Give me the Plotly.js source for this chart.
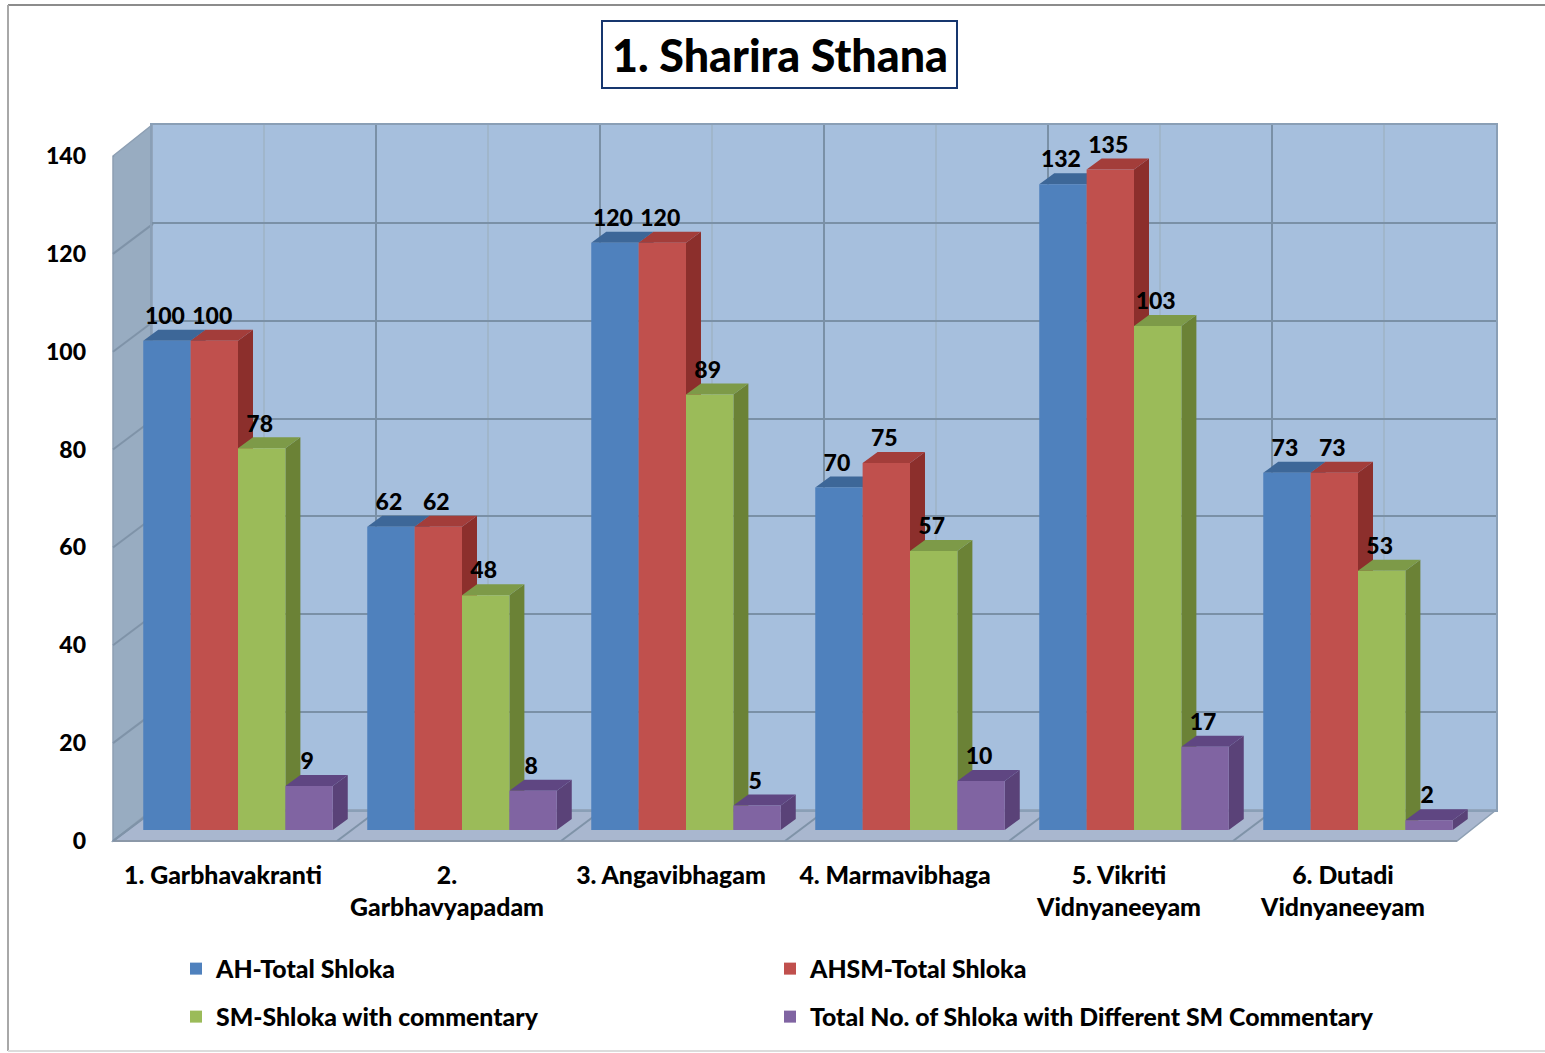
<!DOCTYPE html>
<html><head><meta charset="utf-8">
<script src="https://cdn.plot.ly/plotly-3.0.1.min.js"></script>
<style>html,body{margin:0;padding:0;background:#fff}</style>
</head><body><div id="chart" style="width:1545px;height:1053px"></div>
<script>
const categories = ["1. Garbhavakranti","2.<br>Garbhavyapadam","3. Angavibhagam","4. Marmavibhaga","5. Vikriti<br>Vidnyaneeyam","6. Dutadi<br>Vidnyaneeyam"];
const seriesNames = ["AH-Total Shloka","AHSM-Total Shloka","SM-Shloka with commentary","Total No. of Shloka with Different SM Commentary"];
const ahTotal = [100,62,120,70,132,73];
const ahsmTotal = [100,62,120,75,135,73];
const smCommentary = [78,48,89,57,103,53];
const differentSm = [9,8,5,10,17,2];
const frontColors = ["#4f81bd","#c0504d","#9bbb59","#8064a2"];
const sideColors = ["#385d8a","#8c2f2c","#6b8236","#5a4278"];
const topColors = ["#3d6798","#a33d3a","#7d9a48","#5f4682"];
const yTicks = [0,20,40,60,80,100,120,140];

const W=1545,H=1053;
const xDom=(a,b)=>[a/W,b/W], yDom=(top,bot)=>[(H-bot)/H,(H-top)/H];
const PX_Y=685/140, PX_X=224;
const values=[ahTotal,ahsmTotal,smCommentary,differentSm];
const idx=categories.map((_,i)=>i);
const barSpan=0.846, barW=barSpan/4;
const depthX=15/PX_X, depthY=11/PX_Y;
const wallX=40/PX_X, wallY=30/PX_Y, frontShift=2/PX_X;
const numFont={family:"Lato, sans-serif",size:23,color:"#000",weight:900};
const textFont={family:"Lato, sans-serif",size:24.8,color:"#000",weight:900};
const Y_MAX=160, BAR_BASE=830;

const traces=[];
const gx=[],gy=[];
yTicks.forEach(v=>{gx.push(-0.5+frontShift,-0.5+frontShift+wallX,null);gy.push(v,v+wallY,null);});
idx.forEach(i=>{gx.push(i-0.5+frontShift,i-0.5+frontShift+wallX,null);gy.push(0,wallY,null);});
traces.push({type:"scatter",mode:"lines",x:gx,y:gy,xaxis:"x",yaxis:"y",cliponaxis:false,
  line:{color:"#7f93a8",width:2},hoverinfo:"skip",showlegend:false});
traces.push({type:"scatter",mode:"none",x:[0],y:[0],xaxis:"x2",yaxis:"y2",hoverinfo:"skip",showlegend:false});
values.forEach((vals,s)=>{
  const sx=[],sy=[],tx=[],ty=[];
  vals.forEach((v,i)=>{
    const l=i-barSpan/2+s*barW, r=l+barW;
    sx.push(r,r+depthX,r+depthX,r,r,null); sy.push(0,depthY,v+depthY,v,0,null);
    tx.push(l,r,r+depthX,l+depthX,l,null); ty.push(v,v,v+depthY,v+depthY,v,null);
  });
  traces.push({type:"scatter",mode:"lines",x:sx,y:sy,fill:"toself",fillcolor:sideColors[s],line:{width:0,color:sideColors[s]},
    xaxis:"x3",yaxis:"y3",cliponaxis:false,hoverinfo:"skip",showlegend:false});
  traces.push({type:"scatter",mode:"lines",x:tx,y:ty,fill:"toself",fillcolor:topColors[s],line:{width:0,color:topColors[s]},
    xaxis:"x3",yaxis:"y3",cliponaxis:false,hoverinfo:"skip",showlegend:false});
});
const legendIds=["legend","legend2","legend3","legend4"];
values.forEach((vals,s)=>{
  traces.push({type:"bar",name:seriesNames[s],x:idx,y:vals,marker:{color:frontColors[s],line:{width:0}},
    xaxis:"x4",yaxis:"y4",legend:legendIds[s]});
});
values.forEach((vals,s)=>{
  traces.push({type:"scatter",mode:"text",x:idx.map(i=>i-barSpan/2+(s+0.5)*barW-2/PX_X),y:vals.map(v=>v+22.5/PX_Y),
    text:vals.map(String),textposition:"middle center",textfont:numFont,cliponaxis:false,
    xaxis:"x4",yaxis:"y4",hoverinfo:"skip",showlegend:false});
});

const hidden={showticklabels:false,ticks:"",showgrid:false,zeroline:false,showline:false,fixedrange:true};
const legendAt=(x,y)=>({x:x/W,y:(H-y)/H,xanchor:"left",yanchor:"middle",font:textFont,bgcolor:"rgba(0,0,0,0)",itemclick:false,itemdoubleclick:false});
const poly=pts=>"M"+pts.map(p=>(p[0]/W)+","+((H-p[1])/H)).join("L")+"Z";
const layout={
  width:W,height:H,margin:{l:0,r:0,t:0,b:0},paper_bgcolor:"#fff",plot_bgcolor:"rgba(0,0,0,0)",
  title:{text:"1. Sharira Sthana",x:780/W,xanchor:"center",y:(H-56)/H,yanchor:"middle",font:{family:"Lato, sans-serif",size:44.8,color:"#000",weight:900}},
  barmode:"group",bargap:1-barSpan,bargroupgap:0,showlegend:true,
  xaxis:{domain:xDom(111,1455),range:[-0.5,5.5],tickmode:"array",tickvals:idx,ticktext:categories,tickfont:textFont,
    ticks:"",showgrid:false,zeroline:false,showline:false,ticklabelstandoff:17,fixedrange:true,anchor:"y"},
  yaxis:{domain:yDom(156,841),range:[0,140],tickmode:"array",tickvals:yTicks,tickfont:numFont,ticks:"",
    showgrid:false,zeroline:false,showline:false,ticklabelstandoff:24,fixedrange:true,anchor:"x"},
  xaxis2:{domain:xDom(152,1496),range:[0,6],dtick:1,tick0:0,showticklabels:false,ticks:"",showgrid:true,gridcolor:"#7a90a6",gridwidth:2,
    minor:{dtick:0.5,tick0:0,showgrid:true,gridcolor:"#a0b6cb",gridwidth:2},
    zeroline:false,showline:true,mirror:true,linecolor:"#8a9fb6",linewidth:2,fixedrange:true,anchor:"y2"},
  yaxis2:{domain:yDom(125,810),range:[0,140],dtick:20,tick0:0,showticklabels:false,ticks:"",showgrid:true,gridcolor:"#7a90a6",gridwidth:2,
    zeroline:false,showline:true,mirror:true,linecolor:"#8a9fb6",linewidth:2,fixedrange:true,anchor:"x2"},
  xaxis3:Object.assign({domain:xDom(126,1470),range:[-0.5,5.5],anchor:"y3"},hidden),
  yaxis3:Object.assign({domain:yDom(BAR_BASE-Y_MAX*PX_Y,BAR_BASE),range:[0,Y_MAX],anchor:"x3"},hidden),
  xaxis4:Object.assign({domain:xDom(126,1470),range:[-0.5,5.5],anchor:"y4"},hidden),
  yaxis4:Object.assign({domain:yDom(BAR_BASE-Y_MAX*PX_Y,BAR_BASE),range:[0,Y_MAX],anchor:"x4"},hidden),
  legend:legendAt(176,969),legend2:legendAt(770,969),legend3:legendAt(176,1017),legend4:legendAt(770,1017),
  shapes:[
    {type:"path",xref:"paper",yref:"paper",layer:"below",path:poly([[152,125],[1496,125],[1496,810],[152,810]]),fillcolor:"#a6bfdd",line:{width:0}},
    {type:"path",xref:"paper",yref:"paper",layer:"below",path:poly([[113,156],[152,125],[152,810],[113,841]]),fillcolor:"#98acc1",line:{color:"#8d9fb3",width:1.5}},
    {type:"path",xref:"paper",yref:"paper",layer:"below",path:poly([[113,841],[152,810],[1496,810],[1457,841]]),fillcolor:"#a9b7cf",line:{color:"#8d9fb3",width:1.5}},
    {type:"line",xref:"paper",yref:"paper",layer:"below",x0:113/W,x1:1457/W,y0:(H-841)/H,y1:(H-841)/H,line:{color:"#8b98a8",width:2}},
    {type:"rect",xref:"paper",yref:"paper",layer:"below",x0:602/W,x1:957/W,y0:(H-88)/H,y1:(H-21)/H,line:{color:"#17366e",width:2},fillcolor:"#fff"},
    {type:"line",xref:"paper",yref:"paper",layer:"below",x0:8/W,x1:1,y0:(H-5)/H,y1:(H-5)/H,line:{color:"#8c8c8c",width:2}},
    {type:"line",xref:"paper",yref:"paper",layer:"below",x0:8/W,x1:8/W,y0:(H-1051)/H,y1:(H-5)/H,line:{color:"#a8a8a8",width:2}},
    {type:"line",xref:"paper",yref:"paper",layer:"below",x0:8/W,x1:1,y0:(H-1051)/H,y1:(H-1051)/H,line:{color:"#dcdcdc",width:2}}
  ]
};
Plotly.newPlot("chart",traces,layout,{displayModeBar:false,responsive:false});
</script></body></html>
